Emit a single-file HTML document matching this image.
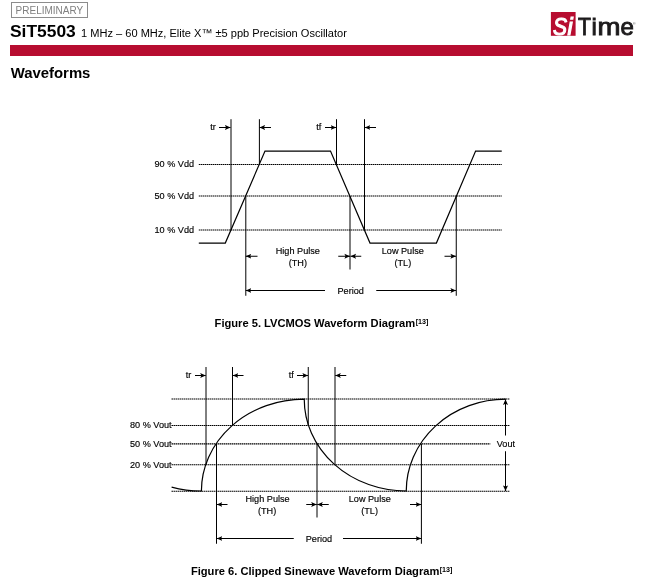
<!DOCTYPE html>
<html>
<head>
<meta charset="utf-8">
<title>SiT5503 Waveforms</title>
<style>
html,body{margin:0;padding:0;background:#fff;}
body{width:672px;height:587px;position:relative;overflow:hidden;font-family:"Liberation Sans",Arial,sans-serif;color:#000;}
.abs{position:absolute;white-space:nowrap;line-height:1;}
#prelim{left:11px;top:2px;width:75px;height:14px;border:1px solid #8c8c8c;box-sizing:content-box;}
#prelimt{left:15.6px;top:5.7px;font-size:10px;color:#808080;}
#pn{left:10px;top:22.8px;font-size:17.4px;font-weight:bold;}
#sub{left:81.1px;top:27.8px;font-size:11.06px;}
#bar{left:10px;top:45px;width:622.8px;height:10.8px;background:#b70d30;}
#wf{left:10.7px;top:65.8px;font-size:14.9px;font-weight:bold;}
svg{position:absolute;left:0;top:0;}
svg text{font-family:"Liberation Sans",Arial,sans-serif;fill:#000;}
svg .lsi text{font-size:24.4px;font-style:italic;fill:#fff;stroke:#fff;stroke-width:1.2px;}
svg .ltm text{font-size:24px;fill:#1c1a1b;stroke:#1c1a1b;stroke-width:0.9px;}
.l{font-size:9.15px;stroke:#000;stroke-width:0.15px;}
.c{font-size:11.15px;font-weight:bold;}
.s{font-size:8px;font-weight:bold;}
</style>
</head>
<body>
<div class="abs" id="prelim"></div>
<div class="abs" id="prelimt">PRELIMINARY</div>
<div class="abs" id="pn">SiT5503</div>
<div class="abs" id="sub">1 MHz – 60 MHz, Elite X™ ±5 ppb Precision Oscillator</div>
<div class="abs" id="bar"></div>
<div class="abs" id="wf">Waveforms</div>

<svg width="672" height="587" viewBox="0 0 672 587">
<defs>
<marker id="ah" viewBox="0 0 6 6" refX="5.6" refY="3" markerWidth="6" markerHeight="6" markerUnits="userSpaceOnUse" orient="auto-start-reverse"><path d="M0,0.5 L5.6,3 L0,5.5 L1.2,3 Z" fill="#000" stroke="none"/></marker>
</defs>
<!-- logo -->
<g id="logo">
<rect x="550.9" y="12" width="24.7" height="23.8" fill="#b70d30"/>
<g class="lsi">
<text transform="translate(553,35.2) scale(0.86,1)">S</text>
<text transform="translate(567.6,35.2) scale(0.95,1)">i</text>
</g>
<g class="ltm">
<text transform="translate(578,35) scale(0.88,1)">T</text>
<text transform="translate(591.5,35)">i</text>
<text transform="translate(597.5,35) scale(1.15,1)">m</text>
<text transform="translate(620.6,35)">e</text>
</g>
<text x="633" y="24.6" style="font-size:3.5px;fill:#444">®</text>
</g>

<!-- Figure 5 -->
<g fill="none" stroke="#000" stroke-width="1">
<g stroke-dasharray="1.5 0.5" stroke="#000" stroke-width="1.15">
<path d="M198.8,164.5 H501.75 M198.8,196 H501.75 M198.8,230 H501.75"/>
</g>
<path d="M198.8,243.1 H225.3 L265,151.1 H330.5 L370,243.1 H436.4 L475.6,151.1 H501.75" stroke-width="1.2" stroke-linejoin="miter"/>
<path d="M231,119.2 V230 M259.4,119.2 V164.5 M336.5,119.2 V164.5 M364.5,119.2 V230"/>
<path d="M245.8,196 V295.75 M350,196 V269.5 M456.25,196 V295.75"/>
<!-- arrows -->
<path d="M219,127.5 H230.5" marker-end="url(#ah)"/>
<path d="M271,127.5 H259.5" marker-end="url(#ah)"/>
<path d="M325,127.5 H336.25" marker-end="url(#ah)"/>
<path d="M376,127.5 H364.75" marker-end="url(#ah)"/>
<path d="M257.5,256.25 H245.75" marker-end="url(#ah)"/>
<path d="M338.25,256.25 H350" marker-end="url(#ah)"/>
<path d="M361.25,256.25 H350.5" marker-end="url(#ah)"/>
<path d="M444.5,256.25 H456" marker-end="url(#ah)"/>
<path d="M325,290.5 H245.75" marker-end="url(#ah)"/>
<path d="M376.25,290.5 H456" marker-end="url(#ah)"/>
</g>
<text class="l" x="210.25" y="130.3">tr</text>
<text class="l" x="316.25" y="130.3">tf</text>
<text class="l" x="154.5" y="167">90 % Vdd</text>
<text class="l" x="154.5" y="198.8">50 % Vdd</text>
<text class="l" x="154.5" y="233">10 % Vdd</text>
<text class="l" x="275.75" y="254.2">High Pulse</text>
<text class="l" x="288.75" y="266">(TH)</text>
<text class="l" x="381.75" y="254.2">Low Pulse</text>
<text class="l" x="394.5" y="266">(TL)</text>
<text class="l" x="337.5" y="294">Period</text>
<text class="c" x="214.6" y="327">Figure 5. LVCMOS Waveform Diagram</text>
<text class="s" transform="translate(415.7,323.9) scale(0.9,1)">[13]</text>

<!-- Figure 6 -->
<g fill="none" stroke="#000" stroke-width="1">
<g stroke-dasharray="1.5 0.5" stroke="#000" stroke-width="1.15">
<path d="M171.5,399 H509.9 M171.5,425.5 H509.9 M171.5,443.9 H490.3 M171.5,464.7 H509.9 M171.5,491.2 H509.9"/>
</g>
<path d="M171.6,487.1 A102,91.8 0 0 0 201.4,491 A103,91.8 0 0 1 304.25,399.2 A102,91.8 0 0 0 406.25,491 A99.6,91.8 0 0 1 505.8,399.2" stroke-width="1.2"/>
<path d="M206,367 V464.7 M232.5,367 V425.5 M308.25,367 V425.5 M335,367 V464.7"/>
<path d="M216.5,443.9 V543.75 M317,443.9 V517.5 M421.4,443.9 V543.75"/>
<path d="M195,375.5 H205.75" marker-end="url(#ah)"/>
<path d="M243.5,375.5 H232.75" marker-end="url(#ah)"/>
<path d="M297,375.5 H308" marker-end="url(#ah)"/>
<path d="M346.25,375.5 H335.25" marker-end="url(#ah)"/>
<path d="M227.5,504.5 H216.75" marker-end="url(#ah)"/>
<path d="M306.25,504.5 H316.75" marker-end="url(#ah)"/>
<path d="M328.75,504.5 H317.25" marker-end="url(#ah)"/>
<path d="M410,504.5 H421.25" marker-end="url(#ah)"/>
<path d="M293.75,538.5 H216.75" marker-end="url(#ah)"/>
<path d="M343,538.5 H421.25" marker-end="url(#ah)"/>
<path d="M505.5,435.5 V399.3" marker-end="url(#ah)"/>
<path d="M505.5,451.25 V491" marker-end="url(#ah)"/>
</g>
<text class="l" x="185.75" y="378.3">tr</text>
<text class="l" x="288.75" y="378.3">tf</text>
<text class="l" x="130" y="428.3">80 % Vout</text>
<text class="l" x="130" y="446.8">50 % Vout</text>
<text class="l" x="130" y="467.5">20 % Vout</text>
<text class="l" x="496.75" y="446.75">Vout</text>
<text class="l" x="245.5" y="502.4">High Pulse</text>
<text class="l" x="258" y="514.3">(TH)</text>
<text class="l" x="348.75" y="502.4">Low Pulse</text>
<text class="l" x="361.25" y="514.3">(TL)</text>
<text class="l" x="305.75" y="542">Period</text>
<text class="c" x="190.9" y="574.5">Figure 6. Clipped Sinewave Waveform Diagram</text>
<text class="s" transform="translate(439.7,571.9) scale(0.9,1)">[13]</text>
</svg>
</body>
</html>
